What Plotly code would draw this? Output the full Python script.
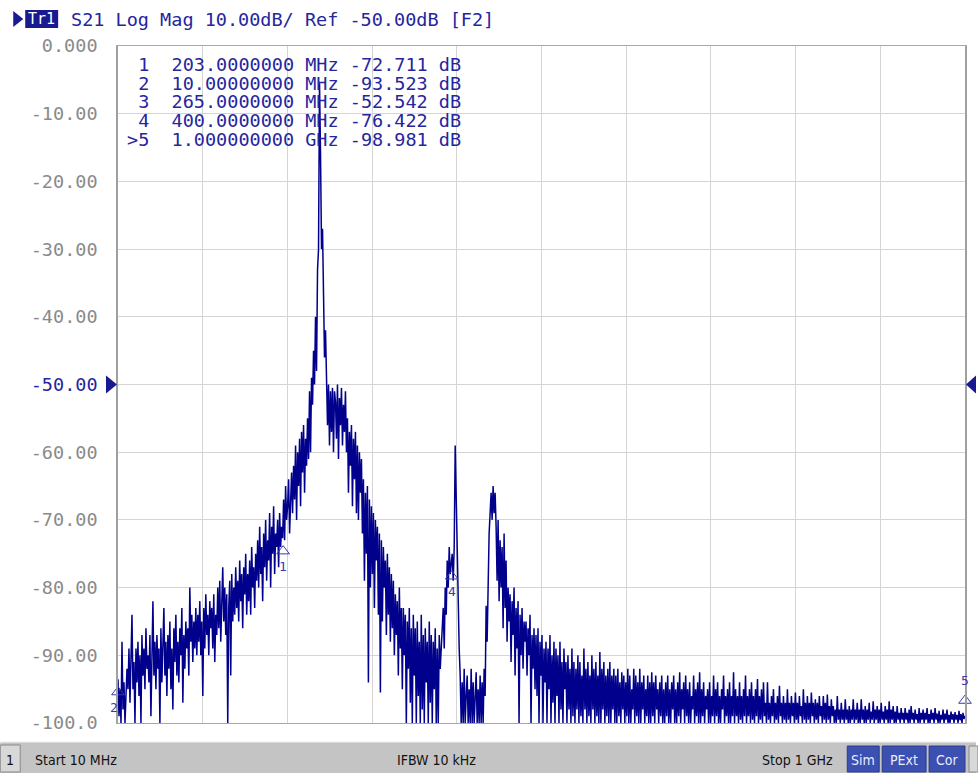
import numpy as np
import plotly.graph_objects as go

# ---------------- data ----------------
start_mhz = 10.0
stop_mhz = 1000.0

# S21 trace (dB), one reading per screen column, left to right
s21_lowband = [
    -93.523, -99, -95, -100, -88, -98, -94, -100, -96, -92,
    -95, -89, -97, -90, -84, -95, -91, -100, -89, -94,
    -88, -96, -90, -100, -87, -93, -89, -95, -86, -92,
    -90, -94, -87, -99, -89, -82, -93, -88, -95, -87,
    -92, -89, -100, -86, -94, -90, -83, -93, -88, -96,
    -87, -92, -85, -95, -89, -98, -86, -91, -84, -93,
    -88, -94, -86, -90, -83, -97, -87, -92, -85, -89,
    -86, -93, -80, -88, -84, -91, -85, -89, -83, -90,
    -84, -88, -82, -90, -85, -96, -83, -89, -81, -87,
    -84, -90, -82, -86, -83, -89, -81, -91, -84, -87,
    -80, -86, -79, -88, -82, -77, -85, -80, -87, -81,
    -100, -83, -79, -93, -78, -85, -80, -84, -77, -83,
    -79, -85, -76, -82, -78, -86, -77, -81, -75, -84,
    -78, -82, -76, -84, -74, -80, -77, -83, -75, -79,
    -73, -80, -71, -78, -74, -82, -72, -77, -70, -79,
    -73, -76, -69, -80, -71, -75, -68, -78, -72, -74,
    -70, -77, -69, -74, -71,
]
s21_rise = [
    -72.711,
    -67, -73, -65, -70, -68, -64, -72, -66, -63,
    -69, -62, -67, -59, -70, -60, -65, -58, -68, -57,
    -63, -56, -66, -58, -62,
    -55, -61, -51, -60, -49,
    -53, -45, -50, -40, -48,
    -33, -30,
]
s21_peak = [
    -5.5,
    -16, -30, -27,
    -40, -46, -42, -48,
    -56, -50, -59, -51, -57, -50.5, -60, -51, -52.542, -58,
    -50, -61, -52, -56, -50.5, -59, -53, -57, -51, -60,
]
s21_fall = [
    -55, -66, -57, -62, -56, -68, -58, -64, -57, -69,
    -59, -70, -60, -66, -61,
    -72, -64, -79, -66, -75, -65, -94, -67, -80, -68,
    -78, -69, -83, -70, -76, -71, -84, -72, -95.5, -73,
    -85, -74, -80, -76, -87, -75, -84, -77, -88, -78,
    -86, -79, -90, -81, -87, -82, -93, -80, -89, -83,
    -95, -83, -90, -84, -100, -85, -92, -83, -97, -86,
    -100, -84, -93, -86, -100, -85, -96, -88, -100, -84,
    -98, -87, -100, -86, -94, -88, -100, -85, -97, -87,
    -100, -88, -95, -86, -100, -89, -100, -87, -92, -88,
]
s21_spur1 = [
    -86, -83, -89, -80, -84,
    -76, -80, -74, -78,
    -76.422,
    -75, -79, -74,
    -59,
    -68, -73, -80, -89, -93,
    -100, -94, -100, -92, -100, -96, -93, -100, -95, -100,
    -92, -100, -94, -100, -96, -92.5, -100, -95, -100, -93,
    -100, -94, -100, -92, -96,
]
s21_spur2 = [
    -82.7, -88, -76, -72, -69,
    -66, -70, -65, -69, -66,
    -71, -79, -70, -82, -73, -80, -74, -86, -72, -83,
    -76, -88, -80, -85, -81, -91, -82, -87, -80, -93,
    -83, -89, -82, -100, -84, -90, -83, -92, -85, -88,
    -85, -93, -86, -90, -84, -100, -87, -92, -86, -95,
    -87, -96, -86, -100, -88, -93, -87, -100, -89, -94,
]
s21_tail = [
    -88, -100, -89, -95, -87, -100, -90, -97, -88, -100,
    -89, -96, -90, -100, -88, -98, -91, -100, -89, -95,
    -91, -100, -90, -98, -92, -100, -89, -99, -91, -100,
    -92, -98, -90, -100, -91, -99, -93, -100, -89, -98,
    -92, -100, -91, -99, -93, -100, -90, -98, -92, -100,
    -91, -99, -93, -100, -89.5, -100, -92, -98, -91, -100,
    -93, -99, -92, -100, -91, -100, -93, -98, -92, -100,
    -93, -100, -92, -99, -94, -100, -92.5, -98, -93, -100,
    -94, -99, -92, -100, -93, -100, -95, -98, -92, -100,
    -93, -99, -94, -100, -92, -100, -94, -98, -93, -100,
    -95, -99, -93, -100, -94, -100, -92.5, -99, -94, -100,
    -93, -98, -95, -100, -94, -99, -93, -100, -95, -100,
    -94, -99, -93, -100, -95, -100, -94, -98, -93, -100,
    -95, -100, -94, -99, -92.5, -100, -95, -98, -94, -100,
    -93, -99, -95, -100, -94, -100, -96, -98, -93, -100,
    -95, -99, -94, -100, -92.5, -100, -95, -99, -94, -100,
    -96, -98, -95, -100, -94, -100, -96, -99, -93, -100,
    -95, -99, -94, -100, -96, -100, -95, -98, -93, -100,
    -96, -99, -95, -100, -94, -100, -96, -99, -92.5, -100,
    -95, -99, -96, -100, -94, -99.5, -96, -100, -95, -99,
    -93, -100, -96, -99, -95, -100, -94, -99.5, -96, -100,
    -95, -99, -93.5, -100, -96, -99.5, -95, -100, -94, -99,
    -97, -100, -94, -99.5, -97, -100, -96, -99, -95, -100,
    -97, -99.5, -96, -100, -94.5, -99, -97, -100, -96, -99.5,
    -97, -100, -95, -99.5, -97, -100, -96, -99, -97, -100,
    -95.5, -99.5, -97, -100, -96, -99, -97.5, -100, -95, -99.5,
    -97, -100, -96, -99.5, -97, -100, -95.5, -99, -97, -100,
    -96.5, -99.5, -97, -100, -96, -99, -97.5, -100, -96, -99.5,
    -97, -100, -95.8, -99.5, -97.5, -100, -96.5, -99, -97.5, -100,
    -98, -100, -96, -99.5, -98, -100, -97, -99.5, -98, -100,
    -96.5, -99.5, -98, -100, -97.5, -100, -98, -99.5, -96.5, -100,
    -98, -99.5, -97, -100, -98, -100, -96.5, -99.5, -98, -100,
    -97.5, -100, -98, -99.5, -97, -100, -98.3, -99.5, -96.8, -100,
    -98, -99.5, -97.5, -100, -98, -100, -97, -99.5, -98.3, -100,
    -97.5, -99.5, -98, -100, -96.8, -100, -98, -99.5, -97.5, -100,
    -98.3, -100, -97.5, -99.5, -98.5, -100, -97.8, -99.5, -98.5, -100,
    -97.8, -99.5, -98.5, -100, -98, -100, -97.5, -99.5, -98.5, -100,
    -98, -99.5, -98.7, -100, -97.8, -100, -98.5, -99.5, -98, -100,
    -98.5, -99.5, -97.8, -100, -98.7, -100, -98, -99.5, -98.5, -100,
    -97.8, -99.5, -98.6, -100, -98.2, -100, -98.8, -99.5, -98, -100,
    -98.6, -99.5, -98, -100, -98.8, -100, -98.3, -99.5, -98.7, -100,
    -98.4, -99.5, -98.8, -100, -98.2, -99.6, -98.7, -100, -98.5, -99.4,
    -98.981,
]

s21_db = s21_lowband + s21_rise + s21_peak + s21_fall + s21_spur1 + s21_spur2 + s21_tail
freq_mhz = np.linspace(start_mhz, stop_mhz, len(s21_db))

marker_ids = ["1", "2", "3", "4", "5"]
marker_freq_mhz = [203.0, 10.0, 265.0, 400.0, 1000.0]
marker_freq_text = ["203.0000000 MHz", "10.00000000 MHz", "265.0000000 MHz",
                    "400.0000000 MHz", "1.000000000 GHz"]
marker_db = [-72.711, -93.523, -52.542, -76.422, -98.981]
active_marker = "5"

y_ticks = [0, -10, -20, -30, -40, -50, -60, -70, -80, -90, -100]
y_ticktext = ["0.000", "-10.00", "-20.00", "-30.00", "-40.00", "-50.00",
              "-60.00", "-70.00", "-80.00", "-90.00", "-100.0"]
ref_level = -50
x_div = 99.0

header_text = "S21 Log Mag 10.00dB/ Ref -50.00dB [F2]"
status_start = "Start 10 MHz"
status_ifbw = "IFBW 10 kHz"
status_stop = "Stop 1 GHz"
status_flags = ["Sim", "PExt", "Cor"]

# ---------------- styling ----------------
W, H = 978, 773
L, R, T, B = 118, 11, 46, 50
PW, PH = W - L - R, H - T - B
TRACE = "#00008c"
TXT = "#25259e"
MONO = "DejaVu Sans Mono"
NB = "\u00a0"


def px(x):
    return (x - L) / PW


def py(y):
    return (H - B - y) / PH


fig = go.Figure()
fig.add_trace(go.Scatter(x=freq_mhz, y=s21_db, mode="lines",
                         line=dict(color=TRACE, width=1.5), hoverinfo="skip",
                         showlegend=False))

# marker triangles under the axis
for mid, f in zip(marker_ids, marker_freq_mhz):
    fig.add_trace(go.Scatter(
        x=[f], y=[-101.8], mode="markers", cliponaxis=False, showlegend=False,
        hoverinfo="skip",
        marker=dict(symbol="triangle-up" if mid == active_marker else "triangle-up-open",
                    size=14, color="#2a2aa6", line=dict(width=1.3, color="#2a2aa6"))))

# on-trace marker flags
for mid, f, v in zip(marker_ids, marker_freq_mhz, marker_db):
    below = mid in ("1", "4", "2")
    if mid == "3":
        continue
    tri_y = v - 1.9 if below else v + 2.3
    fig.add_trace(go.Scatter(
        x=[f], y=[tri_y], mode="markers", cliponaxis=False, showlegend=False,
        hoverinfo="skip",
        marker=dict(symbol="triangle-up-open", size=11, color="#3a3ab0",
                    line=dict(width=1, color="#3a3ab0"))))
    fig.add_annotation(x=f, y=v, xref="x", yref="y", text=mid, showarrow=False,
                       yshift=-28 if below else 36, xshift=-4 if mid == "2" else 0,
                       xanchor="center",
                       font=dict(family=MONO, size=13, color="#3a3ab0"))

# reference level triangles
ref_y = T + (0 - ref_level) / 100 * PH
fig.add_shape(type="path", xref="paper", yref="paper", fillcolor="#1a1a90", line=dict(width=0),
              path=f"M {px(106)} {py(ref_y - 9)} L {px(117)} {py(ref_y)} L {px(106)} {py(ref_y + 9)} Z")
fig.add_shape(type="path", xref="paper", yref="paper", fillcolor="#1a1a90", line=dict(width=0),
              path=f"M {px(978)} {py(ref_y - 9)} L {px(968)} {py(ref_y)} L {px(978)} {py(ref_y + 9)} Z")

# header
fig.add_shape(type="path", xref="paper", yref="paper", fillcolor="#1a1a90", line=dict(width=0),
              path=f"M {px(13)} {py(11)} L {px(23)} {py(19)} L {px(13)} {py(27)} Z")
fig.add_shape(type="rect", xref="paper", yref="paper", fillcolor="#1a1a90", line=dict(width=0),
              x0=px(25), x1=px(58), y0=py(10), y1=py(28))
fig.add_annotation(x=px(41.5), y=py(19), xref="paper", yref="paper", text="Tr1",
                   showarrow=False, xanchor="center", yanchor="middle",
                   font=dict(family=MONO, size=15, color="white"))
fig.add_annotation(x=px(69), y=py(19), xref="paper", yref="paper",
                   text=header_text.replace(" ", NB), showarrow=False,
                   xanchor="left", yanchor="middle",
                   font=dict(family=MONO, size=18.5, color=TXT))

# marker table
for k, (mid, ft, v) in enumerate(zip(marker_ids, marker_freq_text, marker_db)):
    prefix = ">" if mid == active_marker else " "
    row = f"{prefix}{mid}  {ft} {v:.3f} dB"
    fig.add_annotation(x=px(125), y=py(64 + 18.75 * k), xref="paper", yref="paper",
                       text=row.replace(" ", NB), showarrow=False, height=18,
                       xanchor="left", yanchor="middle",
                       font=dict(family=MONO, size=18.5, color=TXT))

# status bar
fig.add_shape(type="rect", xref="paper", yref="paper", fillcolor="#c4c4c4", line=dict(width=0),
              x0=px(0), x1=px(978), y0=py(742), y1=py(773), layer="below")
fig.add_shape(type="line", xref="paper", yref="paper", line=dict(color="#f0f0f0", width=1),
              x0=px(0), x1=px(978), y0=py(742), y1=py(742))
fig.add_shape(type="rect", xref="paper", yref="paper", fillcolor="#d8d8d8",
              line=dict(color="#8a8a8a", width=1), x0=px(0), x1=px(20), y0=py(745), y1=py(772))
SANS = "Liberation Sans Narrow, DejaVu Sans Condensed, Liberation Sans"
fig.add_annotation(x=px(10), y=py(760), xref="paper", yref="paper", text="1", showarrow=False,
                   xanchor="center", yanchor="middle",
                   font=dict(family=SANS, size=14, color="#111111"))
fig.add_annotation(x=px(33), y=py(760), xref="paper", yref="paper", text=status_start,
                   showarrow=False, xanchor="left", yanchor="middle",
                   font=dict(family=SANS, size=14, color="#111111"))
fig.add_annotation(x=px(437), y=py(760), xref="paper", yref="paper", text=status_ifbw,
                   showarrow=False, xanchor="center", yanchor="middle",
                   font=dict(family=SANS, size=14, color="#111111"))
fig.add_annotation(x=px(837), y=py(760), xref="paper", yref="paper", text=status_stop,
                   showarrow=False, xanchor="right", yanchor="middle",
                   font=dict(family=SANS, size=14, color="#111111"))
flag_boxes = [(849, 881), (884, 928), (931, 967)]
for (x0, x1), lab in zip(flag_boxes, status_flags):
    fig.add_shape(type="rect", xref="paper", yref="paper", fillcolor="#3b50b0",
                  line=dict(color="#2a3a90", width=1), x0=px(x0), x1=px(x1),
                  y0=py(746), y1=py(772))
    fig.add_annotation(x=px((x0 + x1) / 2), y=py(760), xref="paper", yref="paper", text=lab,
                       showarrow=False, xanchor="center", yanchor="middle",
                       font=dict(family=SANS, size=14, color="#e8ecff"))
fig.add_shape(type="rect", xref="paper", yref="paper", fillcolor="#d8d8d8",
              line=dict(color="#8a8a8a", width=1), x0=px(971), x1=px(980),
              y0=py(746), y1=py(772))

ticktext = [f"<span style='color:{TXT}'>{t}</span>" if v == ref_level else t
            for v, t in zip(y_ticks, y_ticktext)]

fig.update_layout(
    width=W, height=H, margin=dict(l=L, r=R, t=T, b=B, pad=0),
    paper_bgcolor="white", plot_bgcolor="white", showlegend=False,
    xaxis=dict(range=[start_mhz, stop_mhz], tickvals=[start_mhz + x_div * k for k in range(11)],
               showticklabels=False, ticks="", showgrid=True, gridcolor="#d4d4d4", gridwidth=1,
               zeroline=False, showline=True, linecolor="#a8a8a8", linewidth=1, mirror=True,
               fixedrange=True),
    yaxis=dict(range=[-100, 0], tickvals=y_ticks, ticktext=ticktext, ticks="",
               ticklabelstandoff=15,
               tickfont=dict(family=MONO, size=18.5, color="#8a8a8a"),
               showgrid=True, gridcolor="#d4d4d4", gridwidth=1, zeroline=False,
               showline=True, linecolor="#a0a0a0", linewidth=1.5, mirror=True,
               fixedrange=True),
)

fig.write_html("out.html", config={"displayModeBar": False},
               post_script="document.body.style.margin='0';document.body.style.overflow='hidden';")
